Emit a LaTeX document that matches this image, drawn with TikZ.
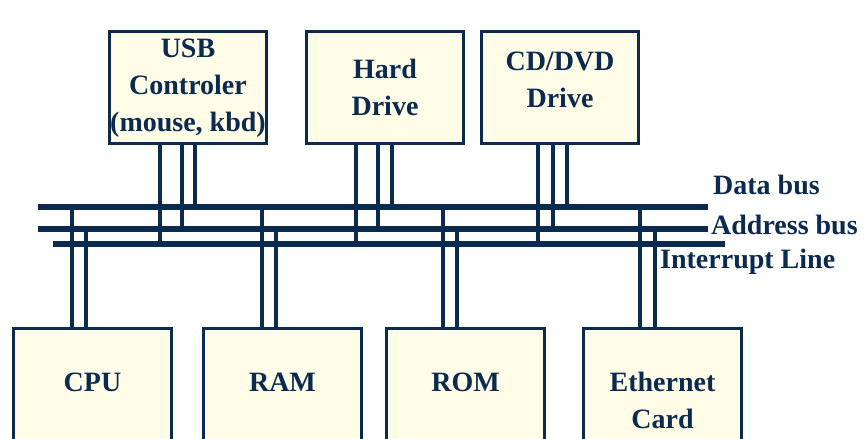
\documentclass[tikz,border=0pt]{standalone}
\usepackage{fontspec}
\setmainfont{Liberation Serif}
\usepackage{tikz}
\usetikzlibrary{positioning,calc}
\definecolor{navy}{HTML}{0B2A50}
\definecolor{boxfill}{HTML}{FFFDE8}

\tikzset{
  box/.style={draw=navy, fill=boxfill, line width=3pt, minimum width=157pt, minimum height=112pt, inner sep=0pt},
  txt/.style={font=\fontsize{28}{37}\selectfont\bfseries, text=navy, align=center, inner sep=0pt},
  bus/.style={draw=navy, line width=6pt},
  wire/.style={draw=navy, line width=4pt}
}

\begin{document}
\begin{tikzpicture}[x=1pt,y=-1pt]
\useasboundingbox (0,0) rectangle (868,439);
\clip (0,0) rectangle (868,439);
% buses
\coordinate (data) at (38,207); \coordinate (dataend) at (708,207);
\coordinate (addr) at (38,229); \coordinate (addrend) at (708,229);
\coordinate (irq) at (53,244); \coordinate (irqend) at (725,244);
\draw[bus] (data) -- (dataend);
\draw[bus] (addr) -- (addrend);
\draw[bus] (irq) -- (irqend);
\node[txt, anchor=west] (datal) at (713,185) {Data bus};
\node[txt, anchor=west] (addrl) at (711,225) {Address bus};
\node[txt, anchor=west] (irql) at (660,262) {Interrupt Line};
% devices on top
\node[box, anchor=north west] (usb) at (108,30) {};
\node[box, right=37pt of usb] (hdd) {};
\node[box, right=15pt of hdd] (cd) {};
\node[txt, yshift=-1pt] (usbt) at (usb) {USB\\Controler\\(mouse, kbd)};
\node[txt] (hddt) at (hdd) {Hard\\Drive};
\node[txt, yshift=8pt] (cdt) at (cd) {CD/DVD\\Drive};
\foreach \dev/\xa/\xb/\xc in {usb/160/182/195, hdd/356/378/392, cd/538/553/567}{
  \draw[wire] (\dev.south -| \xa,0) -- (\xa,0 |- irq);
  \draw[wire] (\dev.south -| \xb,0) -- (\xb,0 |- addr);
  \draw[wire] (\dev.south -| \xc,0) -- (\xc,0 |- data);
}
% devices below
\tikzset{box/.append style={minimum width=158pt, minimum height=140pt}}
\node[box, anchor=north west] (cpu) at (12,327) {};
\node[box, right=29pt of cpu] (ram) {};
\node[box, right=22pt of ram] (rom) {};
\node[box, right=36pt of rom] (eth) {};
\node[txt] (cput) at (cpu.north |- 0,382) {CPU};
\node[txt] (ramt) at (ram.north |- 0,382) {RAM};
\node[txt] (romt) at (rom.north |- 0,382) {ROM};
\node[txt] (etht) at (eth.north |- 0,400) {Ethernet\\Card};
\foreach \dev/\xa/\xb in {cpu/72/86, ram/262/276, rom/443/457, eth/640/655}{
  \draw[wire] (\dev.north -| \xa,0) -- (\xa,0 |- data);
  \draw[wire] (\dev.north -| \xb,0) -- (\xb,0 |- addr);
}
\end{tikzpicture}
\end{document}
